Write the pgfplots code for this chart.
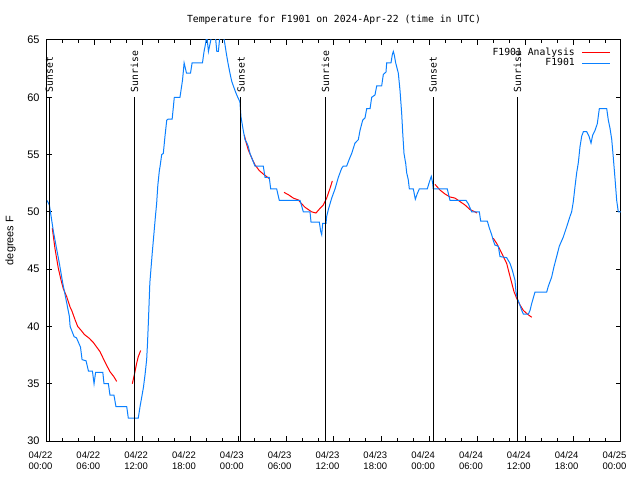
\documentclass[border=0pt]{standalone}
\usepackage{pgfplots}
\pgfplotsset{compat=1.18}
\usepackage{fontspec}
\setmainfont{Liberation Sans}
\newfontfamily\monofont{DejaVu Sans Mono}
\definecolor{anared}{RGB}{255,0,0}
\definecolor{obsblue}{RGB}{10,128,255}

% sunset / sunrise times (hours after 04/22 00:00 UTC)
\pgfplotstableread{
x y lab
0.29  60 Sunset
10.96 60 Sunrise
24.33 60 Sunset
34.94 60 Sunrise
48.42 60 Sunset
59.00 60 Sunrise
}\suntimes

\begin{document}
\begin{tikzpicture}
\useasboundingbox (-47bp,-39bp) rectangle (593bp,441bp);
\begin{axis}[
  scale only axis, width=574bp, height=401bp,
  xmin=0, xmax=72, ymin=30, ymax=65,
  xtick={0,6,...,72}, minor x tick num=2,
  xticklabels={{04/22\\00:00},{04/22\\06:00},{04/22\\12:00},{04/22\\18:00},
               {04/23\\00:00},{04/23\\06:00},{04/23\\12:00},{04/23\\18:00},
               {04/24\\00:00},{04/24\\06:00},{04/24\\12:00},{04/24\\18:00},
               {04/25\\00:00}},
  ytick={30,35,...,65},
  tick align=inside, xtick pos=both, ytick pos=both,
  major tick length=5bp, minor tick length=3bp,
  axis line style={line width=1bp},
  every tick/.style={black, line width=1bp},
  /pgf/number format/assume math mode=true,
  xticklabel style={align=center, font=\fontsize{9.5}{11.3}\selectfont, xshift=-6.5bp, yshift=-7bp},
  yticklabel style={font=\fontsize{11}{13}\selectfont, xshift=-4bp},
  ylabel={degrees F},
  every axis y label/.style={at={(axis description cs:-0.0636,0.5)}, rotate=90, anchor=center, font=\fontsize{11}{13}\selectfont},
  title={Temperature for F1901 on 2024-Apr-22 (time in UTC)},
  every axis title/.style={at={(axis description cs:0.5,1.0424)}, anchor=base, font=\monofont\fontsize{9.8}{12}\selectfont},
  legend style={draw=none, fill=none, at={(1,1)}, anchor=north east, xshift=-10bp, yshift=-5.5bp,
                font=\monofont\fontsize{9.8}{12}\selectfont, row sep=-2bp, column sep=5bp, inner sep=0pt},
  legend cell align=right, legend plot pos=right,
  legend image code/.code={\draw[#1] (0bp,0bp) -- (28bp,0bp);},
  unbounded coords=jump,
]
% analysis (red), several fitted pieces
\addplot[anared, line width=1bp] coordinates {
(0.66,48.6) (1.0,46.8) (1.42,45.07) (1.76,44.05) (2.04,43.3) (2.47,42.6) (2.89,41.7)
(3.1,41.4) (3.51,40.6) (3.85,40.0) (4.35,39.6) (4.68,39.3) (5.31,38.96) (5.81,38.6)
(6.23,38.2) (6.65,37.8) (7.06,37.2) (7.49,36.6) (7.9,36.05) (8.4,35.6) (8.74,35.2)
(9.5,nan)
(10.7,35.0) (10.95,35.76) (11.25,36.8) (11.45,37.36) (11.75,37.9)
(18,nan)
(24.75,56.7) (24.96,56.1) (25.25,55.4) (25.68,54.7) (26.09,54.1) (26.63,53.6)
(27.13,53.3) (27.88,52.9)
(28.8,nan)
(29.73,51.7) (30.27,51.5) (30.9,51.2) (31.52,51.04) (31.95,50.7) (32.36,50.4)
(32.78,50.2) (33.2,50.0) (33.74,49.9) (34.24,50.3) (34.66,50.6) (35.08,51.2)
(35.5,52.05) (35.79,52.7)
(42,nan)
(48.67,52.4) (49.3,51.9) (49.92,51.56) (50.55,51.3) (51.18,51.2) (51.8,50.9)
(52.43,50.6) (53.06,50.2) (53.68,50.0) (53.94,49.9)
(55,nan)
(55.98,47.7) (56.4,47.25) (56.82,46.7) (57.24,46.1) (57.66,45.5) (57.99,44.6)
(58.29,43.8) (58.58,43.03) (58.92,42.45) (59.33,41.87) (59.75,41.4) (60.25,41.08)
(60.8,40.8)
};
\addlegendentry{F1901 Analysis}
% observations (blue)
\addplot[obsblue, line width=1bp] coordinates {
(0.0,51.0) (0.3,50.6) (0.8,48.3) (1.2,46.8) (1.55,45.5) (1.97,43.8) (2.4,42.3)
(2.8,40.9) (2.9,40.0) (3.4,39.1) (3.7,39.0) (4.2,38.2) (4.4,37.1) (4.9,37.0)
(5.2,36.1) (5.7,36.1) (5.9,35.0) (6.1,36.0) (7.0,36.0) (7.15,35.0) (7.7,35.0)
(7.9,34.0) (8.4,34.0) (8.65,33.0) (10.0,33.0) (10.2,32.0) (11.45,32.0) (11.67,33.0)
(11.9,33.9) (12.1,34.7) (12.3,35.8) (12.5,37.1) (12.6,38.4) (12.73,40.6) (12.9,43.8)
(13.2,46.4) (13.45,48.4) (13.6,49.6) (13.75,50.7) (13.9,52.3) (14.1,53.65) (14.17,53.9)
(14.39,55.0) (14.59,55.1) (14.8,56.6) (15.02,58.0) (15.2,58.1) (15.7,58.1) (15.97,60.0)
(16.68,60.0) (17.0,61.5) (17.2,63.0) (17.5,62.1) (18.0,62.1) (18.2,63.0) (19.5,63.0)
(19.7,64.0) (19.9,64.7) (20.03,65.5) (20.25,64.0) (20.7,65.5) (21.1,65.5) (21.3,64.0)
(21.5,64.0) (21.7,65.5) (22.1,65.5) (22.3,64.7) (22.5,63.8) (22.7,63.0) (22.95,62.1)
(23.17,61.4) (23.37,61.0) (23.58,60.6) (23.8,60.2) (24.2,59.6) (24.33,58.3) (24.62,57.1)
(24.84,56.3) (25.05,56.05) (25.25,55.7) (25.46,55.1) (25.8,54.5) (26.09,54.0) (27.13,54.0)
(27.35,53.0) (27.88,53.0) (28.06,52.0) (28.81,52.0) (29.14,51.0) (31.74,51.0) (31.95,50.5)
(32.15,50.0) (32.99,50.0) (33.12,49.1) (34.16,49.1) (34.33,48.3) (34.46,48.0) (34.58,49.0)
(35.0,49.0) (35.08,49.6) (35.29,50.2) (35.5,50.7) (35.71,51.2) (36.13,52.0) (36.54,53.0)
(36.96,53.8) (37.17,54.0) (37.59,54.0) (37.92,54.6) (38.22,55.1) (38.63,56.0) (39.05,56.3)
(39.26,57.1) (39.6,58.0) (39.89,58.2) (40.1,59.0) (40.52,59.0) (40.73,60.0) (41.14,60.2)
(41.36,61.0) (41.98,61.0) (42.19,62.0) (42.52,62.2) (42.61,63.0) (43.15,63.0) (43.31,63.7)
(43.44,64.0) (43.56,63.7) (43.74,63.0) (44.07,62.1) (44.28,60.6) (44.49,58.6) (44.62,56.9)
(44.78,55.1) (45.0,54.2) (45.12,53.4) (45.32,52.8) (45.45,52.0) (45.95,52.0) (46.2,51.1)
(46.45,51.6) (46.7,52.0) (47.7,52.0) (47.96,52.6) (48.2,53.1) (48.38,52.5) (48.45,52.0)
(50.21,52.0) (50.55,51.0) (52.56,51.0) (52.85,50.7) (53.27,50.0) (54.23,50.0) (54.4,49.2)
(55.23,49.2) (55.48,48.6) (55.78,48.0) (55.98,47.5) (56.19,47.1) (56.61,47.0) (56.82,46.1)
(57.66,46.0) (58.08,45.5) (58.37,44.9) (58.7,44.05) (58.83,43.0) (58.99,42.45) (59.25,42.0)
(59.55,41.4) (59.75,41.08) (60.38,41.08) (60.59,41.4) (60.8,42.0) (61.21,43.0) (62.68,43.0)
(62.88,43.5) (63.3,44.3) (63.59,45.2) (63.93,46.1) (64.26,47.0) (64.76,47.8) (65.19,48.7)
(65.6,49.6) (65.81,50.0) (66.02,50.9) (66.23,52.2) (66.44,53.4) (66.65,54.3) (66.86,55.7)
(67.07,56.6) (67.28,57.0) (67.7,57.0) (67.99,56.6) (68.24,56.0) (68.45,56.7) (68.74,57.1)
(69.03,57.7) (69.28,59.0) (70.21,59.0) (70.41,58.0) (70.62,57.3) (70.84,56.3) (71.04,54.7)
(71.25,52.9) (71.46,51.0) (71.66,50.0) (72.0,50.0)
};
\addlegendentry{F1901}
% sunset / sunrise markers
\addplot[black, line width=1bp, forget plot] coordinates {
(0.29,30) (0.29,60) (5,nan) (10.96,30) (10.96,60) (15,nan)
(24.33,30) (24.33,60) (30,nan) (34.94,30) (34.94,60) (40,nan)
(48.42,30) (48.42,60) (52,nan) (59.00,30) (59.00,60)
};
\addplot[draw=none, forget plot, nodes near coords, point meta=explicit symbolic,
  every node near coord/.style={rotate=90, anchor=west, inner xsep=5bp, inner ysep=0pt,
    font=\monofont\fontsize{9.8}{12}\selectfont, text=black}]
  table[x=x, y=y, meta=lab] {\suntimes};
\end{axis}
\end{tikzpicture}
\end{document}
